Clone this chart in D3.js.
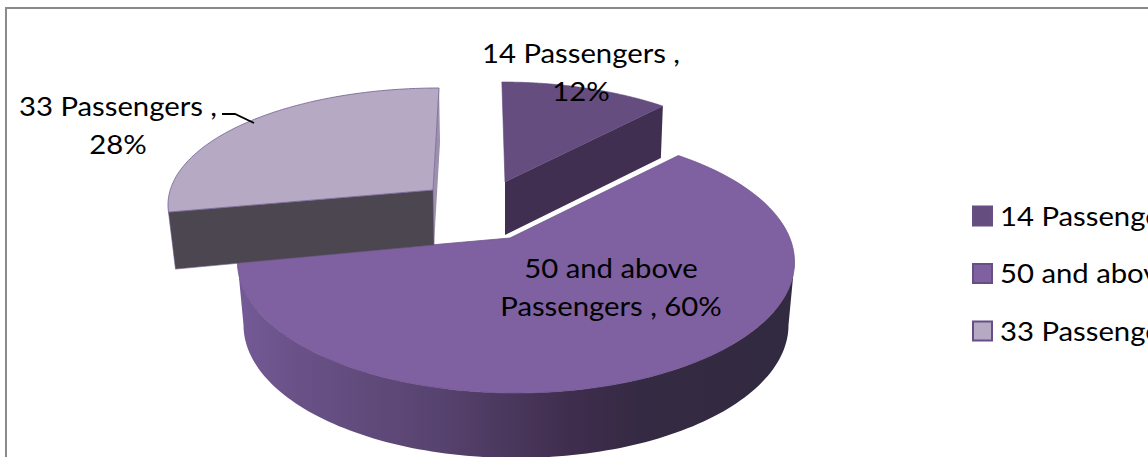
<!DOCTYPE html>
<html>
<head>
<meta charset="utf-8">
<script src="https://cdn.jsdelivr.net/npm/d3@7"></script>
<style>
html,body{margin:0;padding:0;background:#fff;overflow:hidden}
svg{display:block}
text{font-family:Lato,"Open Sans",sans-serif;fill:#000}
</style>
</head>
<body>
<svg id="chart" width="1148" height="457"></svg>
<script>
// ---- data ----
const categories = ["14 Passengers", "50 and above Passengers", "33 Passengers"];
const shares = [12, 60, 28];
const topColors = ["#664d80", "#7f60a0", "#b5a9c4"];
const wallColors = ["#412f52", "#4a3a60", "#4b4650"];
const edgeColors = ["#5c4677", "#6f5590", "#7d6a98"];

const W = 1148, H = 457;
const svg = d3.select("#chart");
svg.append("rect").attr("x", 6).attr("y", 8).attr("width", W + 20).attr("height", H + 20)
  .attr("fill", "#fff").attr("stroke", "#8a8a8a").attr("stroke-width", 2);

// pie layout
const arcs = d3.pie().sort(null).value(d => d)(shares);

// projection of each exploded slice: apex, top ellipse, slant of rays
const geom = [
  {ax: 505, ay: 182, cx: 502, cy: 213, rx: 278.5, ry: 131, k: .445, s: -.014, depth: 52},
  {ax: 510, ay: 238, cx: 516, cy: 262, rx: 278.5, ry: 131, k: .46, s: 0,     depth: 63},
  {ax: 433, ay: 190, cx: 439, cy: 205, rx: 271,   ry: 117, k: .44, s: .026,  depth: 54}
];

function rim(g, theta) {
  const dx = Math.sin(theta) + g.s * Math.cos(theta), dy = -g.k * Math.cos(theta);
  const px = (g.ax - g.cx) / g.rx, py = (g.ay - g.cy) / g.ry;
  const qx = dx / g.rx, qy = dy / g.ry;
  const a = qx * qx + qy * qy, b = 2 * (px * qx + py * qy), c = px * px + py * py - 1;
  const u = (-b + Math.sqrt(b * b - 4 * a * c)) / (2 * a);
  return [g.ax + dx * u, g.ay + dy * u];
}
const line = d3.line();

function topPath(i) {
  const g = geom[i], d = arcs[i];
  const pts = d3.range(0, 121).map(j => rim(g, d.startAngle + (d.endAngle - d.startAngle) * j / 120));
  return line([[g.ax, g.ay], ...pts]) + "Z";
}
function ellipsePts(cx, cy, rx, ry, t0, t1) {
  return d3.range(0, 121).map(j => {
    const t = t0 + (t1 - t0) * j / 120;
    return [cx + rx * Math.cos(t), cy + ry * Math.sin(t)];
  });
}
function edgeWall(g, p, skew) {
  return line([p, [g.ax, g.ay], [g.ax + skew[0], g.ay + g.depth + skew[1]], [p[0] + skew[2], p[1] + g.depth + skew[3]]]) + "Z";
}

// gradient of the round wall
const grad = svg.append("defs").append("linearGradient").attr("id", "wall")
  .attr("gradientUnits", "userSpaceOnUse").attr("x1", 238).attr("x2", 795).attr("y1", 0).attr("y2", 0);
[[0, "#745a97"], [.1, "#6a5288"], [.36, "#57436f"], [.6, "#3f2d4d"], [.72, "#352a43"], [1, "#322a40"]]
  .forEach(s => grad.append("stop").attr("offset", s[0]).attr("stop-color", s[1]));

// large slice: rounded wall, then top
const gb = geom[1];
const wallPts = [
  ...ellipsePts(gb.cx, gb.cy, gb.rx, gb.ry, Math.PI, 0),
  ...ellipsePts(gb.cx, gb.cy + gb.depth, gb.rx - 6, gb.ry + 2, 0, Math.PI)
];
svg.append("path").attr("d", line(wallPts) + "Z").attr("fill", "url(#wall)");
svg.append("path").attr("d", topPath(1)).attr("fill", topColors[1]).attr("stroke", edgeColors[1]).attr("stroke-width", .8);

// 14 slice
const g0 = geom[0];
svg.append("path").attr("d", edgeWall(g0, rim(g0, arcs[0].endAngle), [0, 1, -2, 0])).attr("fill", wallColors[0]);
svg.append("path").attr("d", topPath(0)).attr("fill", topColors[0]).attr("stroke", edgeColors[0]).attr("stroke-width", .6);

// 33 slice
const g2 = geom[2];
const sl = rim(g2, arcs[2].startAngle), el = rim(g2, arcs[2].endAngle);
svg.append("path").attr("d", edgeWall(g2, el, [1, 1, 1, 0])).attr("fill", "#9d90ae");
svg.append("path").attr("d", line([[g2.ax, g2.ay], sl, [sl[0] + 7, sl[1] + 57], [g2.ax + 1, g2.ay + 55]]) + "Z")
  .attr("fill", wallColors[2]).attr("stroke", "#6a5a85").attr("stroke-width", .6);
svg.append("path").attr("d", topPath(2)).attr("fill", topColors[2]).attr("stroke", edgeColors[2]).attr("stroke-width", .9);

// leader line
svg.append("path").attr("d", d3.line()([[222, 114], [235, 114], [254, 123]]))
  .attr("fill", "none").attr("stroke", "#000").attr("stroke-width", 1.8);

// data labels (Lato widened to the proportions of the original face)
const fs = 26.5, widen = 1.105;
const labelLines = [
  [`${categories[0]} ,`, `${shares[0]}%`],
  ["50 and above", `Passengers , ${shares[1]}%`],
  [`${categories[2]} ,`, `${shares[2]}%`]
];
const labelPos = [{x: 581, y: 63}, {x: 611, y: 278}, {x: 118, y: 116}];
labelLines.forEach((ls, i) => {
  ls.forEach((s, j) => svg.append("text")
    .attr("transform", `translate(${labelPos[i].x},${labelPos[i].y + j * 38}) scale(${widen},1)`)
    .attr("text-anchor", "middle").attr("font-size", fs).text(s));
});

// legend
const legendY = d3.scalePoint().domain(categories).range([216, 331]);
const leg = svg.selectAll("g.leg").data(categories).join("g").attr("class", "leg")
  .attr("transform", d => `translate(973,${legendY(d)})`);
leg.append("rect").attr("x", 0).attr("y", -9.5).attr("width", 19).attr("height", 19)
  .attr("fill", (d, i) => topColors[i]).attr("stroke", "#654f85").attr("stroke-width", 2);
leg.append("text").attr("transform", `translate(27,9.5) scale(${widen},1)`).attr("font-size", fs).text(d => d);
</script>
</body>
</html>
